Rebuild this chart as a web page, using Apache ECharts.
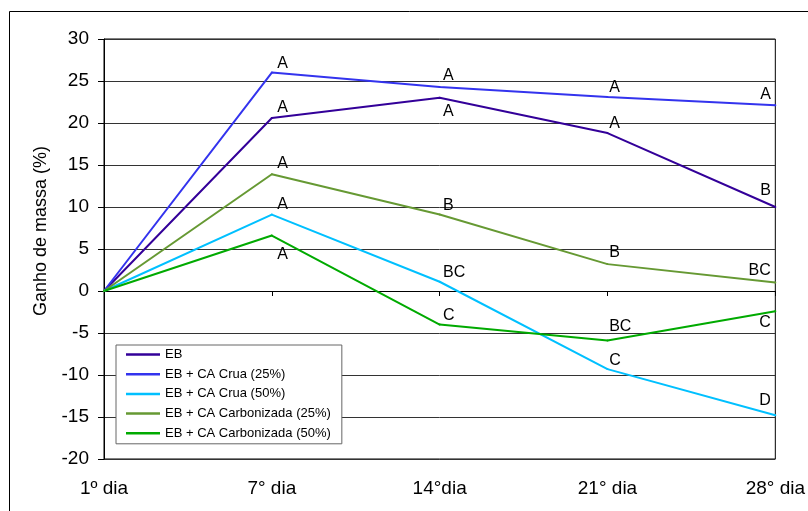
<!DOCTYPE html>
<html>
<head>
<meta charset="utf-8">
<script src="https://cdn.jsdelivr.net/npm/echarts@6/dist/echarts.min.js"></script>
<style>
html, body { margin: 0; padding: 0; background: #fff; }
#chart { width: 808px; height: 511px; }
</style>
</head>
<body>
<div id="chart"></div>
<script>
// ---------- DATA ----------
const categories = ['1º dia', '7° dia', '14°dia', '21° dia', '28° dia'];
const seriesNames = ['EB', 'EB + CA Crua (25%)', 'EB + CA Crua (50%)', 'EB + CA Carbonizada (25%)', 'EB + CA Carbonizada (50%)'];
const ebValues      = [0, 20.6, 23.0, 18.8, 10.0];
const crua25Values  = [0, 26.0, 24.3, 23.1, 22.1];
const crua50Values  = [0, 9.1, 1.1, -9.3, -14.8];
const carb25Values  = [0, 13.9, 9.1, 3.2, 1.0];
const carb50Values  = [0, 6.6, -4.0, -5.9, -2.4];
const ebLetters     = ['', 'A', 'A', 'A', 'B'];
const crua25Letters = ['', 'A', 'A', 'A', 'A'];
const crua50Letters = ['', 'A', 'BC', 'C', 'D'];
const carb25Letters = ['', 'A', 'B', 'B', 'BC'];
const carb50Letters = ['', 'A', 'C', 'BC', 'C'];
const yMin = -20, yMax = 30, yStep = 5;
const yAxisTitle = 'Ganho de massa (%)';

// ---------- STYLE ----------
const FONT = "'Liberation Sans', Arial, sans-serif";
const colors = ['#330099', '#3333EE', '#00C0FF', '#669933', '#00AA00'];
// label gap from point (px): positive above, negative below
const ebGaps     = [0, 5, -8, 1.7, 10.7];
const crua25Gaps = [0, 3.3, 5.3, 3.7, 4.6];
const crua50Gaps = [0, 4.3, 1.7, 2, 9.3];
const carb25Gaps = [0, 4.7, 1.6, 5.7, 6.3];
const carb50Gaps = [0, -13, 3.3, 8.6, -5.7];
const labelDx = [0, 5.5, 3.4, 1.7, -4.5];

function buildData(values, letters, gaps) {
  const last = values.length - 1;
  return values.map((v, i) => {
    if (!letters[i]) return { value: v, label: { show: false } };
    const g = gaps[i];
    return {
      value: v,
      label: {
        show: true,
        formatter: letters[i],
        position: g >= 0 ? 'top' : 'bottom',
        distance: Math.max(0, Math.abs(g) - 3.3),
        align: i === last ? 'right' : 'left',
        offset: [labelDx[i], 0]
      }
    };
  });
}

const allValues = [ebValues, crua25Values, crua50Values, carb25Values, carb50Values];
const allLetters = [ebLetters, crua25Letters, crua50Letters, carb25Letters, carb50Letters];
const allGaps = [ebGaps, crua25Gaps, crua50Gaps, carb25Gaps, carb50Gaps];

const series = seriesNames.map((name, k) => ({
  name: name,
  type: 'line',
  xAxisIndex: 0,
  data: buildData(allValues[k], allLetters[k], allGaps[k]),
  symbol: 'circle',
  symbolSize: 2,
  color: colors[k],
  lineStyle: { color: colors[k], width: 2 },
  itemStyle: { color: colors[k] },
  label: { color: '#000', fontSize: 16, fontFamily: FONT },
  emphasis: { disabled: true },
  z: 5
}));

const chart = echarts.init(document.getElementById('chart'), null, { renderer: 'canvas' });
chart.setOption({
  animation: false,
  backgroundColor: '#fff',
  grid: { left: 104, right: 27, top: 39, bottom: 52, show: true, borderColor: '#000', borderWidth: 1, backgroundColor: 'transparent' },
  graphic: [{
    type: 'rect', shape: { x: 9.5, y: 11.5, width: 900, height: 600 },
    style: { fill: 'none', stroke: '#000', lineWidth: 1 }, silent: true, z: 0
  }],
  legend: {
    orient: 'vertical',
    left: 116, top: 345,
    padding: [3, 11, 4, 10],
    itemWidth: 34, itemHeight: 14, itemGap: 6.7,
    backgroundColor: '#fff', borderColor: '#666', borderWidth: 1,
    textStyle: { fontSize: 13, fontFamily: FONT, color: '#000' },
    icon: 'path://M0,0H34V2.5H0Z',
    data: seriesNames,
    selectedMode: false
  },
  xAxis: [{
    type: 'category', data: categories, boundaryGap: false, position: 'bottom',
    axisLine: { show: false, onZero: false }, axisTick: { show: false }, splitLine: { show: false },
    axisLabel: { fontSize: 19, fontFamily: FONT, color: '#000', margin: 20, interval: 0 }
  }, {
    type: 'category', data: categories, boundaryGap: false, position: 'top',
    axisLine: { show: true, onZero: true, lineStyle: { color: '#000', width: 1 } },
    axisTick: { show: true, inside: true, length: 5, lineStyle: { color: '#000' } },
    axisLabel: { show: false }, splitLine: { show: false }
  }],
  yAxis: {
    type: 'value', min: yMin, max: yMax, interval: yStep,
    name: yAxisTitle, nameLocation: 'middle', nameGap: 54,
    nameTextStyle: { fontSize: 18, fontFamily: FONT, color: '#000', padding: [0, 0, 0, 36] },
    axisLine: { show: true, lineStyle: { color: '#000', width: 1 } },
    axisTick: { show: true, length: 6, lineStyle: { color: '#000' } },
    axisLabel: { fontSize: 19, fontFamily: FONT, color: '#000', margin: 15 },
    splitLine: { show: true, lineStyle: { color: '#333', width: 1 } }
  },
  series: series
});
</script>
</body>
</html>
